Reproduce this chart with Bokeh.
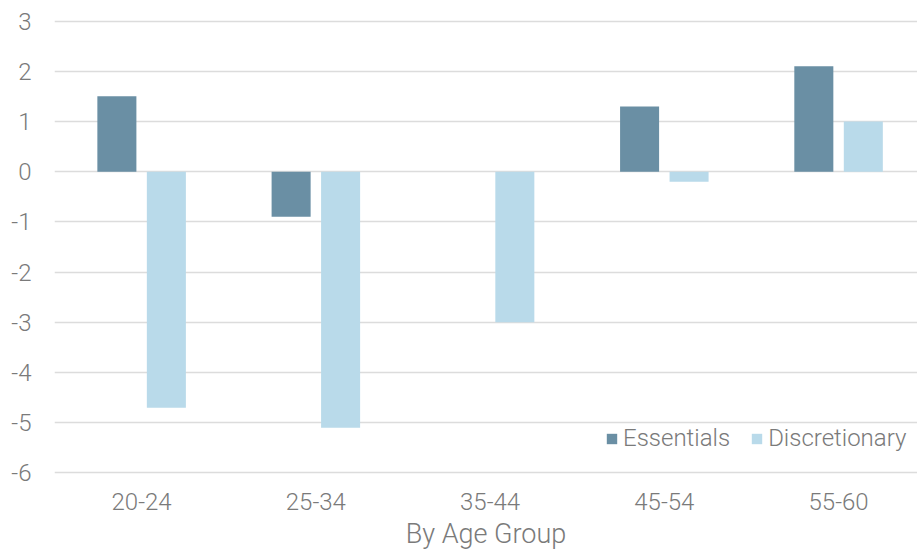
from bokeh.plotting import figure
from bokeh.models import FixedTicker, Legend, LegendItem
from bokeh.embed import file_html
from bokeh.resources import INLINE

# Change by age group
age_groups = ["20-24", "25-34", "35-44", "45-54", "55-60"]
essentials = [1.5, -0.9, 0.0, 1.3, 2.1]
discretionary = [-4.7, -5.1, -3.0, -0.2, 1.0]
y_ticks = [-6, -5, -4, -3, -2, -1, 0, 1, 2, 3]
y_tick_labels = ["-6", "-5", "-4", "-3", "-2", "-1", "0", "1", "2", "3"]
x_title = "By Age Group"

ESS_COLOR = "#6a8fa4"
DISC_COLOR = "#b9daea"
TEXT_COLOR = "#7a7a7a"
FONT = "'Roboto Light', Roboto, sans-serif"

centers = [i + 0.5 for i in range(len(age_groups))]
bar_w = 0.224
offset = 0.142

p = figure(width=917, height=553, x_range=(0, 4.953), y_range=(-6.05, 3.05),
           output_backend="svg", toolbar_location=None,
           min_border_left=54, min_border_right=0, min_border_top=18,
           min_border_bottom=78)
p.outline_line_color = None
p.background_fill_color = "white"
p.border_fill_color = "white"

r_ess = p.vbar(x=[c - offset for c in centers], top=essentials, bottom=0,
               width=bar_w, fill_color=ESS_COLOR, line_color=None)
r_disc = p.vbar(x=[c + offset for c in centers], top=discretionary, bottom=0,
                width=bar_w, fill_color=DISC_COLOR, line_color=None)

# x axis: category labels under each group, title below them
p.xaxis.ticker = FixedTicker(ticks=centers)
p.xaxis.major_label_overrides = {c: g for c, g in zip(centers, age_groups)}
p.xaxis.axis_line_color = None
p.xaxis.major_tick_line_color = None
p.xaxis.minor_tick_line_color = None
p.xaxis.major_label_standoff = 11
p.xaxis.major_label_text_font = FONT
p.xaxis.major_label_text_font_size = "24px"
p.xaxis.major_label_text_color = TEXT_COLOR
p.xaxis.axis_label = x_title
p.xaxis.axis_label_text_font = FONT
p.xaxis.axis_label_text_font_size = "27px"
p.xaxis.axis_label_text_font_style = "normal"
p.xaxis.axis_label_text_color = TEXT_COLOR
p.xaxis.axis_label_standoff = 5

# y axis
p.yaxis.ticker = FixedTicker(ticks=y_ticks)
p.yaxis.major_label_overrides = {t: s for t, s in zip(y_ticks, y_tick_labels)}
p.yaxis.axis_line_color = None
p.yaxis.major_tick_line_color = None
p.yaxis.minor_tick_line_color = None
p.yaxis.major_label_standoff = 17
p.yaxis.major_label_text_font = FONT
p.yaxis.major_label_text_font_size = "24px"
p.yaxis.major_label_text_color = TEXT_COLOR

p.xgrid.grid_line_color = None
p.ygrid.grid_line_color = "#dcdcdc"
p.ygrid.grid_line_width = 1.5

legend = Legend(items=[LegendItem(label="Essentials", renderers=[r_ess]),
                       LegendItem(label="Discretionary", renderers=[r_disc])],
                orientation="horizontal", location=(551, 23),
                glyph_width=13, glyph_height=13, label_standoff=5, spacing=20,
                padding=0, margin=0, border_line_color=None,
                background_fill_alpha=0,
                label_text_font=FONT, label_text_font_size="24px",
                label_text_color=TEXT_COLOR)
p.add_layout(legend, "center")

open("out.html", "w").write(file_html(p, INLINE))
